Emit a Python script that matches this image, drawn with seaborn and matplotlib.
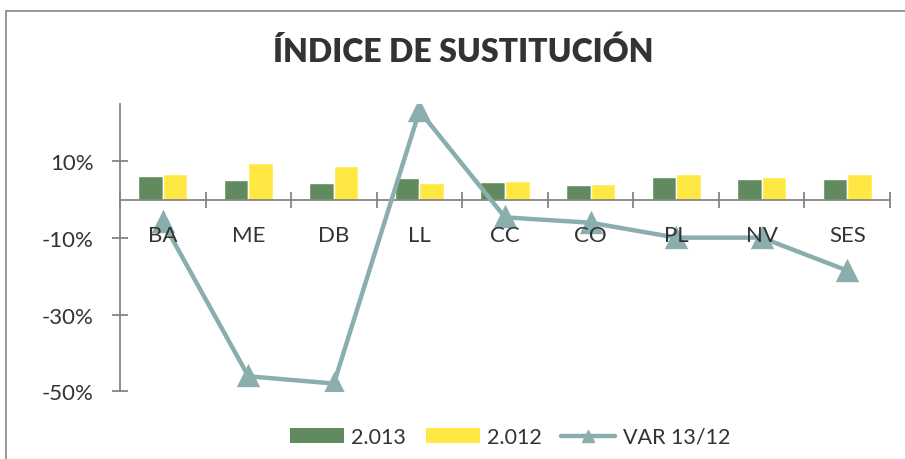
import matplotlib
matplotlib.use("Agg")
import matplotlib.pyplot as plt
import pandas as pd
import seaborn as sns
from matplotlib.lines import Line2D
from matplotlib.patches import Patch, Rectangle
from matplotlib.ticker import FixedLocator, FuncFormatter

categorias = ["BA", "ME", "DB", "LL", "CC", "CO", "PL", "NV", "SES"]
serie_2013 = [0.061, 0.051, 0.045, 0.056, 0.047, 0.038, 0.060, 0.054, 0.053]
serie_2012 = [0.066, 0.097, 0.087, 0.045, 0.050, 0.041, 0.067, 0.060, 0.066]
var_13_12 = [-0.058, -0.461, -0.480, 0.232, -0.046, -0.060, -0.099, -0.099, -0.185]
y_ticks = [0.10, -0.10, -0.30, -0.50]

GREEN = "#618B5F"
YELLOW = "#FFE843"
LINE = "#8AAEAE"
AXIS = "#868686"
TEXT = "#333333"

sns.set_theme(style="white")
plt.rcParams["font.family"] = ["Lato", "DejaVu Sans"]

barras = pd.DataFrame({
    "cat": categorias * 2,
    "valor": serie_2013 + serie_2012,
    "serie": ["2.013"] * len(categorias) + ["2.012"] * len(categorias),
})

fig = plt.figure(figsize=(9.05, 4.6), dpi=100)
ax = fig.add_axes([120 / 905, 1 - 392.2 / 460, 770 / 905, (392.2 - 105) / 460])

sns.barplot(data=barras, x="cat", y="valor", hue="serie", order=categorias,
            hue_order=["2.013", "2.012"], palette=[GREEN, YELLOW],
            width=0.573, saturation=1, legend=False, ax=ax)
sns.pointplot(x=categorias, y=var_13_12, order=categorias, color=LINE,
              markers="^", errorbar=None, markersize=12.5, linewidth=3.2,
              ax=ax)
for ln in ax.lines:
    ln.set_zorder(4)
# category labels sit on top of the line, as in the original
ax.xaxis.set_zorder(5)

ax.set_xlim(-0.5, len(categorias) - 0.5)
ax.set_ylim(-0.50, 0.25)
ax.set_xlabel("")
ax.set_ylabel("")

# category axis crosses at zero, tick marks between categories
ax.spines["bottom"].set_position(("data", 0))
for s in ["top", "right"]:
    ax.spines[s].set_visible(False)
for s in ["bottom", "left"]:
    ax.spines[s].set_color(AXIS)
    ax.spines[s].set_linewidth(1.3)

ax.xaxis.set_major_locator(FixedLocator([i - 0.5 for i in range(len(categorias) + 1)]))
ax.xaxis.set_major_formatter(FuncFormatter(lambda v, p: ""))
ax.set_xticks(range(len(categorias)), labels=categorias, minor=True)
ax.tick_params(axis="x", which="major", direction="inout", length=11.5,
               width=1.3, color=AXIS, bottom=True)
ax.tick_params(axis="x", which="minor", length=0, pad=18, labelsize=16,
               labelcolor=TEXT, bottom=True)

ax.set_yticks(y_ticks)
ax.yaxis.set_major_formatter(FuncFormatter(lambda v, p: f"{v * 100:.0f}%"))
ax.tick_params(axis="y", direction="inout", length=11.5, width=1.3,
               color=AXIS, pad=13, labelsize=16, labelcolor=TEXT, left=True)
ax.grid(False)

fig.text(463 / 905, 1 - 52 / 460, "ÍNDICE DE SUSTITUCIÓN", ha="center",
         va="center", fontsize=23, fontweight="heavy", color="#333333")

handles = [
    Patch(facecolor=GREEN, edgecolor="none"),
    Patch(facecolor=YELLOW, edgecolor="none"),
    Line2D([0], [0], color=LINE, linewidth=3.2, marker="^", markersize=9),
]
fig.legend(handles, ["2.013", "2.012", "VAR 13/12"], loc="center",
           bbox_to_anchor=(510 / 905, 1 - 438 / 460), ncol=3, frameon=False,
           fontsize=15.5, handlelength=2.5, handleheight=0.66,
           handletextpad=0.35, columnspacing=0.9, labelcolor=TEXT)

fig.patches.append(Rectangle((5.5 / 905, -0.1), 1.2, 1.1 - 11.5 / 460,
                             transform=fig.transFigure, fill=False,
                             edgecolor=AXIS, linewidth=1.2))

fig.savefig("out.png", dpi=100)
